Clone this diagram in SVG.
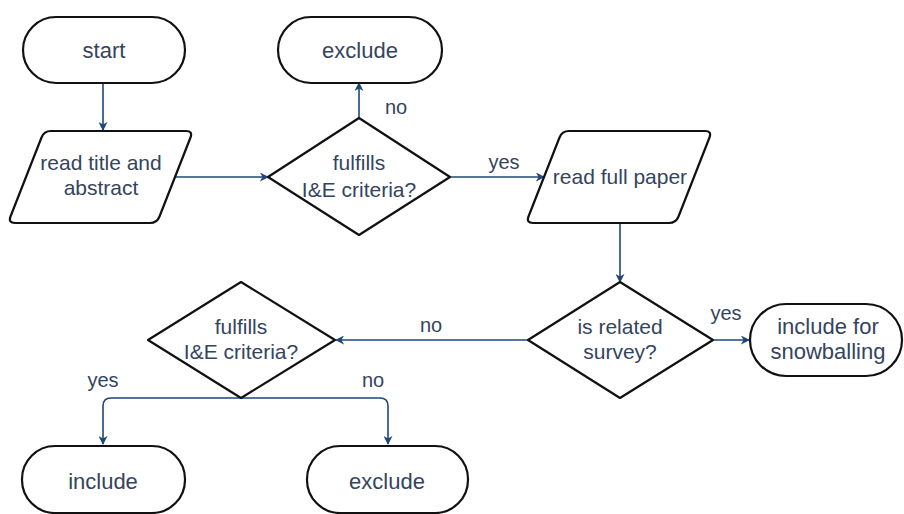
<svg xmlns="http://www.w3.org/2000/svg" width="904" height="514" viewBox="0 0 904 514">
<defs>
<marker id="arr" viewBox="0 0 10 10" refX="9" refY="5" markerWidth="9" markerHeight="9" markerUnits="userSpaceOnUse" orient="auto">
<path d="M0,0 L10,5 L0,10 L3,5 Z" fill="#1f4677"/>
</marker>
<style>
.shape{fill:#fff;stroke:#111;stroke-width:2.2;stroke-linejoin:round}
.t{font-family:"Liberation Sans",Arial,sans-serif;font-size:21px;fill:#34445e;text-anchor:middle}
.tt{font-size:22px}
.lbl{font-family:"Liberation Sans",Arial,sans-serif;font-size:20px;fill:#34445e;text-anchor:middle}
.c{fill:none;stroke:#1f4677;stroke-width:1.6}
</style>
</defs>
<rect width="904" height="514" fill="#fff"/>
<g id="connectors">
<line class="c" x1="103" y1="84" x2="103" y2="130" marker-end="url(#arr)"/>
<line class="c" x1="175" y1="177" x2="268" y2="177" marker-end="url(#arr)"/>
<line class="c" x1="359" y1="118" x2="359" y2="83" marker-end="url(#arr)"/>
<line class="c" x1="450" y1="177" x2="544" y2="177" marker-end="url(#arr)"/>
<line class="c" x1="620" y1="223" x2="620" y2="282" marker-end="url(#arr)"/>
<line class="c" x1="713" y1="340" x2="749" y2="340" marker-end="url(#arr)"/>
<line class="c" x1="528" y1="340" x2="336" y2="340" marker-end="url(#arr)"/>
<path class="c" d="M241,398 L111,398 Q103,398 103,406 L103,444" marker-end="url(#arr)"/>
<path class="c" d="M241,398 L380,398 Q388,398 388,406 L388,444" marker-end="url(#arr)"/>
<text class="lbl" x="396" y="114">no</text>
<text class="lbl" x="504" y="169">yes</text>
<text class="lbl" x="726" y="320">yes</text>
<text class="lbl" x="431" y="332">no</text>
<text class="lbl" x="103" y="387">yes</text>
<text class="lbl" x="373" y="387">no</text>
</g>
<g id="start">
<rect class="shape" x="23" y="17" width="162" height="66" rx="33"/>
<text class="t tt" x="104" y="58">start</text>
</g>
<g id="exclude1">
<rect class="shape" x="278" y="17" width="164" height="66" rx="33"/>
<text class="t tt" x="360" y="58">exclude</text>
</g>
<g id="read_title">
<path class="shape" d="M51,131 L186,131 Q193,131 190.5,137.5 L159.5,216.5 Q157,223 150,223 L15,223 Q8,223 10.5,216.5 L41.5,137.5 Q44,131 51,131 Z"/>
<text class="t" x="101" y="170">read title and</text>
<text class="t" x="101" y="195">abstract</text>
</g>
<g id="decision1">
<path class="shape" d="M359,118 L450,177 L359,235 L268,177 Z"/>
<text class="t" x="359" y="170">fulfills</text>
<text class="t" x="359" y="197">I&amp;E criteria?</text>
</g>
<g id="read_full">
<path class="shape" d="M569,131 L705,131 Q712,131 709.5,137.5 L678.5,216.5 Q676,223 669,223 L533,223 Q526,223 528.5,216.5 L559.5,137.5 Q562,131 569,131 Z"/>
<text class="t" x="620" y="184">read full paper</text>
</g>
<g id="decision2">
<path class="shape" d="M620,282 L713,340 L620,398 L528,340 Z"/>
<text class="t" x="620" y="334">is related</text>
<text class="t" x="620" y="359">survey?</text>
</g>
<g id="snowballing">
<rect class="shape" x="750" y="304" width="152" height="72" rx="36"/>
<text class="t tt" x="828" y="334">include for</text>
<text class="t tt" x="828" y="359">snowballing</text>
</g>
<g id="decision3">
<path class="shape" d="M241,282 L335,340 L241,398 L148,340 Z"/>
<text class="t" x="241" y="334">fulfills</text>
<text class="t" x="241" y="359">I&amp;E criteria?</text>
</g>
<g id="include">
<rect class="shape" x="22" y="446" width="163" height="67" rx="33"/>
<text class="t tt" x="103" y="489">include</text>
</g>
<g id="exclude2">
<rect class="shape" x="307" y="446" width="161" height="67" rx="33"/>
<text class="t tt" x="387" y="489">exclude</text>
</g>
</svg>
